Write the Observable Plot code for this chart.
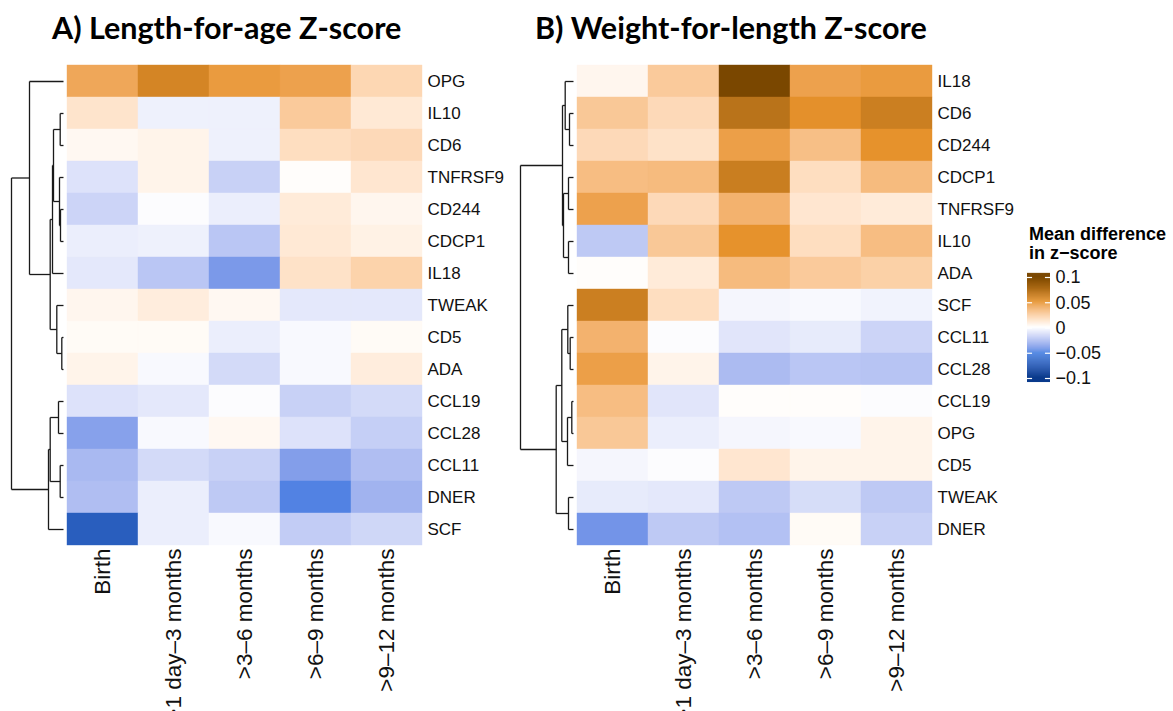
<!DOCTYPE html>
<html><head><meta charset="utf-8">
<script src="https://cdn.jsdelivr.net/npm/d3@7"></script>
<script src="https://cdn.jsdelivr.net/npm/@observablehq/plot@0.6"></script>
<style>
body{margin:0;background:#fff;}
#root{position:relative;width:1173px;height:711px;overflow:hidden;font-family:"Liberation Sans",Arial,sans-serif;background:#fff;}
.abs{position:absolute;top:0;}
.abs svg{display:block;max-width:none;overflow:visible;}
.title{position:absolute;font-family:Lato,"Open Sans",sans-serif;font-weight:700;font-size:30.5px;line-height:1;color:#000;white-space:nowrap;}
.ltitle{position:absolute;left:1029px;top:225px;font-weight:700;font-size:18px;line-height:19px;color:#000;white-space:nowrap;}
</style></head><body><div id="root"></div>
<script>
// ---------- data ----------
const timepoints = ["Birth", ">1 day–3 months", ">3–6 months", ">6–9 months", ">9–12 months"];

const lazProteins = ["OPG","IL10","CD6","TNFRSF9","CD244","CDCP1","IL18","TWEAK","CD5","ADA","CCL19","CCL28","CCL11","DNER","SCF"];
const lazValues = [
  [ 0.040,  0.058,  0.046,  0.043,  0.018],
  [ 0.012, -0.005, -0.005,  0.024,  0.010],
  [ 0.003,  0.005, -0.005,  0.015,  0.017],
  [-0.010,  0.005, -0.016,  0.001,  0.011],
  [-0.015, -0.001, -0.006,  0.009,  0.004],
  [-0.006, -0.005, -0.020,  0.010,  0.006],
  [-0.008, -0.020, -0.037,  0.013,  0.020],
  [ 0.004,  0.008,  0.003, -0.008, -0.008],
  [ 0.002,  0.002, -0.006, -0.002,  0.002],
  [ 0.005, -0.002, -0.013, -0.002,  0.008],
  [-0.010, -0.008, -0.001, -0.016, -0.013],
  [-0.034, -0.002,  0.003, -0.010, -0.017],
  [-0.025, -0.013, -0.016, -0.035, -0.023],
  [-0.023, -0.006, -0.019, -0.046, -0.027],
  [-0.070, -0.006, -0.002, -0.018, -0.014]
];
// dendrogram merges: [left, right, height]; "mK" refers to the K-th merge
const lazMerges = [
  ["IL10","CD6",3.3], ["CD244","CDCP1",3], ["TNFRSF9","m1",4], ["m0","m2",10],
  ["m3","IL18",11], ["CD5","ADA",1.7], ["TWEAK","m5",6.7], ["m4","m6",13.3],
  ["OPG","m7",34], ["CCL19","CCL28",5], ["CCL11","DNER",3.3], ["m9","m10",13.3],
  ["m11","SCF",15], ["m8","m12",52]
];

const wlzProteins = ["IL18","CD6","CD244","CDCP1","TNFRSF9","IL10","ADA","SCF","CCL11","CCL28","CCL19","OPG","CD5","TWEAK","DNER"];
const wlzValues = [
  [ 0.004,  0.024,  0.100,  0.043,  0.046],
  [ 0.025,  0.017,  0.070,  0.051,  0.062],
  [ 0.017,  0.013,  0.044,  0.029,  0.050],
  [ 0.030,  0.031,  0.063,  0.015,  0.031],
  [ 0.043,  0.017,  0.035,  0.011,  0.009],
  [-0.019,  0.025,  0.050,  0.015,  0.030],
  [ 0.001,  0.009,  0.031,  0.024,  0.021],
  [ 0.062,  0.015, -0.003, -0.002, -0.004],
  [ 0.035, -0.001, -0.009, -0.007, -0.015],
  [ 0.044,  0.005, -0.024, -0.020, -0.021],
  [ 0.030, -0.009,  0.001,  0.001, -0.001],
  [ 0.025, -0.006, -0.003, -0.002,  0.005],
  [-0.003, -0.001,  0.011,  0.005,  0.005],
  [-0.007, -0.008, -0.019, -0.012, -0.019],
  [-0.039, -0.019, -0.022,  0.002, -0.016]
];
const wlzMerges = [
  ["CD6","CD244",4], ["IL18","m0",8.3], ["CDCP1","TNFRSF9",5], ["IL10","ADA",5],
  ["m2","m3",10], ["m1","m4",11], ["CCL11","CCL28",3.3], ["SCF","m6",5.7],
  ["CCL19","OPG",1.7], ["m8","CD5",6], ["m7","m9",11.7], ["TWEAK","DNER",5],
  ["m10","m11",17.3], ["m5","m12",53]
];

const legendTicks = [-0.1, -0.05, 0, 0.05, 0.1];
const colorStops = [-0.1, -0.05, 0, 0.05, 0.1];
const colorRange = ["#0a3a8c", "#3a78e0", "#ffffff", "#e6922c", "#7a4700"];

// ---------- helpers ----------
const colorOpts = {type: "linear", domain: colorStops, range: colorRange, interpolate: "lab", clamp: true};
const svgStyle = {background: "transparent", maxWidth: "none", overflow: "visible"};
const root = document.getElementById("root");

function place(node, left) {
  const d = document.createElement("div");
  d.className = "abs";
  d.style.left = left + "px";
  d.appendChild(node);
  root.appendChild(d);
}
function tidy(proteins, values) {
  return proteins.flatMap((p, i) => timepoints.map((t, j) => ({protein: p, time: t, value: values[i][j]})));
}
function segments(leaves, merges) {
  const pos = new Map(leaves.map((l, i) => [l, {y: i, h: 0}]));
  const segs = [];
  merges.forEach(([a, b, h], k) => {
    const A = pos.get(a), B = pos.get(b);
    segs.push({x1: A.h, y1: A.y, x2: h, y2: A.y});
    segs.push({x1: B.h, y1: B.y, x2: h, y2: B.y});
    segs.push({x1: h, y1: A.y, x2: h, y2: B.y});
    pos.set("m" + k, {y: (A.y + B.y) / 2, h});
  });
  return segs;
}
function heatmap(proteins, values) {
  const table = tidy(proteins, values);
  return Plot.plot({
    width: 356 + 95, height: 711,
    marginTop: 65, marginBottom: 166, marginLeft: 0, marginRight: 95,
    style: {...svgStyle, fontFamily: "Liberation Sans, Arial, sans-serif"},
    x: {domain: timepoints, padding: 0, axis: null},
    y: {domain: proteins, padding: 0, axis: null},
    color: colorOpts,
    marks: [
      Plot.cell(table, {x: "time", y: "protein", fill: "value", stroke: "value", strokeWidth: 0.4}),
      Plot.axisY({anchor: "right", tickSize: 0, tickPadding: 5, label: null, fontSize: 17, fill: "#111"}),
      Plot.axisX({anchor: "bottom", tickSize: 0, tickPadding: 3, tickRotate: -90, label: null, fontSize: 22.5, fill: "#111"})
    ]
  });
}
function dendro(leaves, merges, marginLeft) {
  const segs = segments(leaves, merges);
  return Plot.plot({
    width: 66, height: 711,
    marginTop: 65, marginBottom: 166, marginLeft, marginRight: 3,
    style: svgStyle,
    x: {domain: [0, d3.max(merges, m => m[2])], reverse: true, axis: null},
    y: {domain: [-0.5, leaves.length - 0.5], reverse: true, axis: null},
    marks: [Plot.link(segs, {x1: "x1", y1: "y1", x2: "x2", y2: "y2", stroke: "#1a1a1a", strokeWidth: 1.3})]
  });
}

// ---------- titles ----------
const tA = document.createElement("div"); tA.className = "title"; tA.style.left = "52px"; tA.style.top = "12px";
tA.textContent = "A) Length-for-age Z-score"; root.appendChild(tA);
const tB = document.createElement("div"); tB.className = "title"; tB.style.left = "535px"; tB.style.top = "12px";
tB.textContent = "B) Weight-for-length Z-score"; root.appendChild(tB);

// ---------- panels ----------
place(dendro(lazProteins, lazMerges, 11), 0);
place(heatmap(lazProteins, lazValues), 66);
place(dendro(wlzProteins, wlzMerges, 10), 510);
place(heatmap(wlzProteins, wlzValues), 576);

// ---------- legend ----------
const lt = document.createElement("div"); lt.className = "ltitle";
lt.innerHTML = "Mean difference<br>in z−score"; root.appendChild(lt);
const gradient = d3.range(-0.108, 0.108, 0.002);
const legend = Plot.plot({
  width: 146, height: 400,
  marginTop: 277, marginBottom: 22, marginLeft: 0, marginRight: 123,
  style: {...svgStyle, fontFamily: "Liberation Sans, Arial, sans-serif"},
  x: {domain: [0, 1], axis: null},
  y: {domain: [-0.1, 0.1], axis: null},
  color: colorOpts,
  marks: [
    Plot.rect(gradient, {x1: 0, x2: 1, y1: d => d, y2: d => d + 0.0022, fill: d => d}),
    Plot.ruleY(legendTicks, {x1: 0, x2: 0.22, stroke: "white", strokeWidth: 1.2}),
    Plot.ruleY(legendTicks, {x1: 0.78, x2: 1, stroke: "white", strokeWidth: 1.2}),
    Plot.axisY({ticks: legendTicks, anchor: "right", tickSize: 0, tickPadding: 5, label: null, fontSize: 18, fill: "#111", tickFormat: d3.format("~g")})
  ]
});
place(legend, 1027);
</script>
</body></html>
